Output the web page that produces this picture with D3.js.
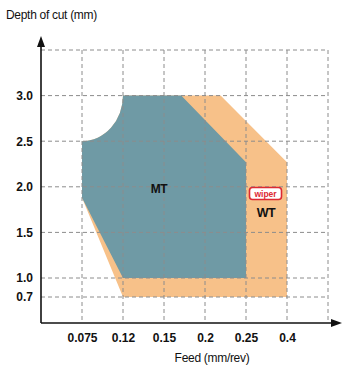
<!DOCTYPE html>
<html>
<head>
<meta charset="utf-8">
<title>Depth of cut vs feed</title>
<script src="https://cdn.jsdelivr.net/npm/d3@7"></script>
<style>
  body { margin: 0; background: #fff; }
  svg text { font-family: "Liberation Sans", Arial, sans-serif; fill: #111; }
  .tick text { font-size: 12px; font-weight: bold; }
  .grid line { stroke: #8c8c8c; stroke-dasharray: 4,3; stroke-width: 1; }
</style>
</head>
<body>
<script>
// axis tick values (first/last entries of the domains are the axis origin and the outer grid line)
const feedTicks = [0.075, 0.12, 0.15, 0.2, 0.25, 0.4];
const depthTicks = [0.7, 1.0, 1.5, 2.0, 2.5, 3.0];
const feedDomain = [0.03, 0.075, 0.12, 0.15, 0.2, 0.25, 0.4, 0.55];
const depthDomain = [0.3, 0.7, 1.0, 3.5];

// application areas [feed, depth]; first two points are joined by the concave arc
const mtRegion = [[0.075, 2.5], [0.12, 3.0], [0.171, 3.0], [0.25, 2.27], [0.25, 1.0], [0.12, 1.0], [0.075, 1.88]];
const wtRegion = [[0.075, 2.5], [0.12, 3.0], [0.219, 3.0], [0.4, 2.27], [0.4, 0.7], [0.12, 0.7], [0.075, 1.88]];

const W = 343, H = 367;
const plotL = 41, plotR = 328, plotB = 323, plotT = 50;

const svg = d3.select("body").append("svg").attr("width", W).attr("height", H);

const step = (plotR - plotL) / (feedDomain.length - 1);
const x = d3.scaleLinear().domain(feedDomain).range(feedDomain.map((d, i) => plotL + i * step));
const y = d3.scaleLinear().domain(depthDomain).range([plotB, 297, 278, plotT]);

// region path: arc between first two points, straight edges for the rest
function regionPath(pts) {
  const p = pts.map(d => [x(d[0]), y(d[1])]);
  const rx = p[1][0] - p[0][0], ry = p[0][1] - p[1][1];
  let s = `M${p[0][0]},${p[0][1]} A${rx},${ry} 0 0 0 ${p[1][0]},${p[1][1]}`;
  for (let i = 2; i < p.length; i++) s += ` L${p[i][0]},${p[i][1]}`;
  return s + "Z";
}

svg.append("path").attr("d", regionPath(wtRegion)).attr("fill", "#f7c189");
svg.append("path").attr("d", regionPath(mtRegion)).attr("fill", "#6f9aa5");

// grid
const vGrid = feedTicks.concat([feedDomain[feedDomain.length - 1]]);
const hGrid = depthTicks.concat([depthDomain[depthDomain.length - 1]]);
svg.append("g").attr("class", "grid")
  .selectAll("line").data(vGrid).join("line")
  .attr("x1", d => x(d)).attr("x2", d => x(d))
  .attr("y1", y(3.5)).attr("y2", plotB);
svg.append("g").attr("class", "grid")
  .selectAll("line").data(hGrid).join("line")
  .attr("x1", plotL).attr("x2", x(0.55))
  .attr("y1", d => y(d)).attr("y2", d => y(d));

// axes labels
const xAxis = svg.append("g").attr("transform", `translate(0,${plotB})`)
  .call(d3.axisBottom(x).tickValues(feedTicks).tickFormat(d => d).tickSize(0).tickPadding(10));
xAxis.select(".domain").remove();
const yAxis = svg.append("g").attr("transform", `translate(${plotL},0)`)
  .call(d3.axisLeft(y).tickValues(depthTicks).tickFormat(d3.format(".1f")).tickSize(0).tickPadding(8));
yAxis.select(".domain").remove();

// axis lines with arrows
svg.append("line").attr("x1", plotL).attr("x2", plotL).attr("y1", plotB).attr("y2", 44)
  .attr("stroke", "#111").attr("stroke-width", 1.6);
svg.append("path").attr("d", `M${plotL},36 L${plotL - 4},47 L${plotL + 4},47Z`).attr("fill", "#111");
svg.append("line").attr("x1", plotL).attr("x2", 334).attr("y1", plotB).attr("y2", plotB)
  .attr("stroke", "#111").attr("stroke-width", 1.6);
svg.append("path").attr("d", `M342,${plotB} L331,${plotB - 4} L331,${plotB + 4}Z`).attr("fill", "#111");

// titles
svg.append("text").attr("x", 6).attr("y", 19).attr("font-size", "12px")
  .attr("letter-spacing", "-0.3").text("Depth of cut (mm)");
svg.append("text").attr("x", 212).attr("y", 362).attr("text-anchor", "middle")
  .attr("font-size", "12px").attr("letter-spacing", "-0.3").text("Feed (mm/rev)");

// region labels
svg.append("text").attr("x", 159).attr("y", 193).attr("text-anchor", "middle")
  .attr("font-size", "12px").attr("font-weight", "bold").attr("letter-spacing", "-0.5").text("MT");
svg.append("text").attr("x", 266).attr("y", 217).attr("text-anchor", "middle")
  .attr("font-size", "12.5px").attr("font-weight", "bold").attr("letter-spacing", "-0.5").text("WT");

// wiper badge
const badge = svg.append("g").attr("transform", "translate(265.5,193.5)");
badge.append("rect").attr("x", -16).attr("y", -6).attr("width", 32).attr("height", 12).attr("rx", 3)
  .attr("fill", "#fff").attr("stroke", "#dd2a33").attr("stroke-width", 1.6);
badge.append("text").attr("y", 3).attr("text-anchor", "middle").attr("font-size", "8.5px")
  .attr("font-weight", "bold").style("fill", "#dd2a33").text("wiper");
</script>
</body>
</html>
